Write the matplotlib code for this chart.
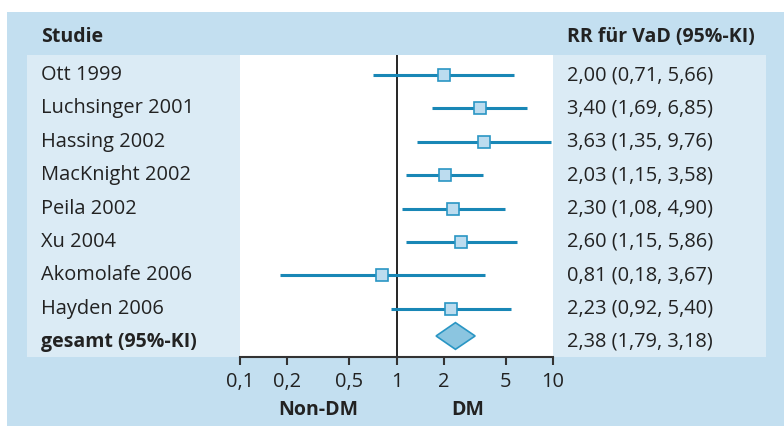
import matplotlib.pyplot as plt
import matplotlib.transforms as mtransforms
from matplotlib.patches import Rectangle, Polygon

studien = ['Ott 1999', 'Luchsinger 2001', 'Hassing 2002', 'MacKnight 2002',
           'Peila 2002', 'Xu 2004', 'Akomolafe 2006', 'Hayden 2006']
rr = [2.00, 3.40, 3.63, 2.03, 2.30, 2.60, 0.81, 2.23]
ki_unten = [0.71, 1.69, 1.35, 1.15, 1.08, 1.15, 0.18, 0.92]
ki_oben = [5.66, 6.85, 9.76, 3.58, 4.90, 5.86, 3.67, 5.40]
gesamt_rr = 2.38
gesamt_ki = (1.79, 3.18)
xticks = [0.1, 0.2, 0.5, 1, 2, 5, 10]
xticklabels = ['0,1', '0,2', '0,5', '1', '2', '5', '10']

W, H = 784, 426
bg = '#c3dff0'
panel = '#dbebf5'
linie = '#1987b6'
quad = '#bcdcef'
raute = '#8bc5e0'
txt = '#222222'
plt.rcParams['font.family'] = ['Open Sans', 'DejaVu Sans']
fs = 14.4
fsb = 14


def fx(px):
    return px / W


def fy(py):
    return 1 - py / H


def de(v):
    return f'{v:.2f}'.replace('.', ',')


fig = plt.figure(figsize=(W / 100, H / 100), dpi=100)
fig.patches.append(Rectangle((fx(7), 0), 1 - fx(7), fy(12), transform=fig.transFigure,
                             facecolor=bg, edgecolor='none', zorder=-2))
fig.patches.append(Rectangle((fx(27), fy(357)), fx(240) - fx(27), fy(55) - fy(357),
                             transform=fig.transFigure, facecolor=panel, edgecolor='none', zorder=-1))
fig.patches.append(Rectangle((fx(553), fy(357)), fx(766) - fx(553), fy(55) - fy(357),
                             transform=fig.transFigure, facecolor=panel, edgecolor='none', zorder=-1))

ax = fig.add_axes([fx(240), fy(357), fx(553) - fx(240), fy(55) - fy(357)])
ax.set_facecolor('white')
ax.set_xscale('log')
ax.set_xlim(0.1, 10)
n = len(studien)
ax.set_ylim(n + 0.45, -0.6)

ys = list(range(n))
ax.axvline(1, color='black', lw=1.2, zorder=1)
ax.hlines(ys, ki_unten, ki_oben, color=linie, lw=2.2, zorder=2)
ax.plot(rr, ys, 's', ms=9, mfc=quad, mec='#2a96c4', mew=1.2, zorder=3)

# Raute für den Gesamtschätzer, leicht nach oben versetzt wie im Original
yd = n - 0.18
h = 0.4
ax.add_patch(Polygon([(gesamt_ki[0], yd), (gesamt_rr, yd - h), (gesamt_ki[1], yd), (gesamt_rr, yd + h)],
                     closed=True, facecolor=raute, edgecolor='#2a96c4', lw=1.2, zorder=3))

for s in ['top', 'left', 'right']:
    ax.spines[s].set_visible(False)
ax.spines['bottom'].set_color('#333333')
ax.spines['bottom'].set_linewidth(1.5)
ax.set_yticks([])
ax.set_xticks(xticks)
ax.set_xticklabels(xticklabels)
ax.minorticks_off()
ax.tick_params(axis='x', direction='out', length=6, width=1.5, color='#333333',
               labelsize=fs, labelcolor=txt, pad=5)

tr = mtransforms.blended_transform_factory(fig.transFigure, ax.transData)
for i, name in enumerate(studien):
    ax.text(fx(41), i, name, transform=tr, va='center', ha='left', fontsize=fs, color=txt)
    ax.text(fx(567), i, f'{de(rr[i])} ({de(ki_unten[i])}, {de(ki_oben[i])})',
            transform=tr, va='center', ha='left', fontsize=fs, color=txt)
ax.text(fx(41), n, 'gesamt (95%-KI)', transform=tr, va='center', ha='left',
        fontsize=fsb, color=txt, fontweight='bold')
ax.text(fx(567), n, f'{de(gesamt_rr)} ({de(gesamt_ki[0])}, {de(gesamt_ki[1])})',
        transform=tr, va='center', ha='left', fontsize=fs, color=txt)

fig.text(fx(41), fy(37), 'Studie', ha='left', va='center', fontsize=fsb,
         fontweight='bold', color=txt)
fig.text(fx(567), fy(37), 'RR für VaD (95%-KI)', ha='left', va='center', fontsize=fsb,
         fontweight='bold', color=txt)
fig.text(fx(318), fy(410), 'Non-DM', ha='center', va='center', fontsize=fsb,
         fontweight='bold', color=txt)
fig.text(fx(468), fy(410), 'DM', ha='center', va='center', fontsize=fsb,
         fontweight='bold', color=txt)

fig.savefig('out.png', dpi=100, facecolor='white')
